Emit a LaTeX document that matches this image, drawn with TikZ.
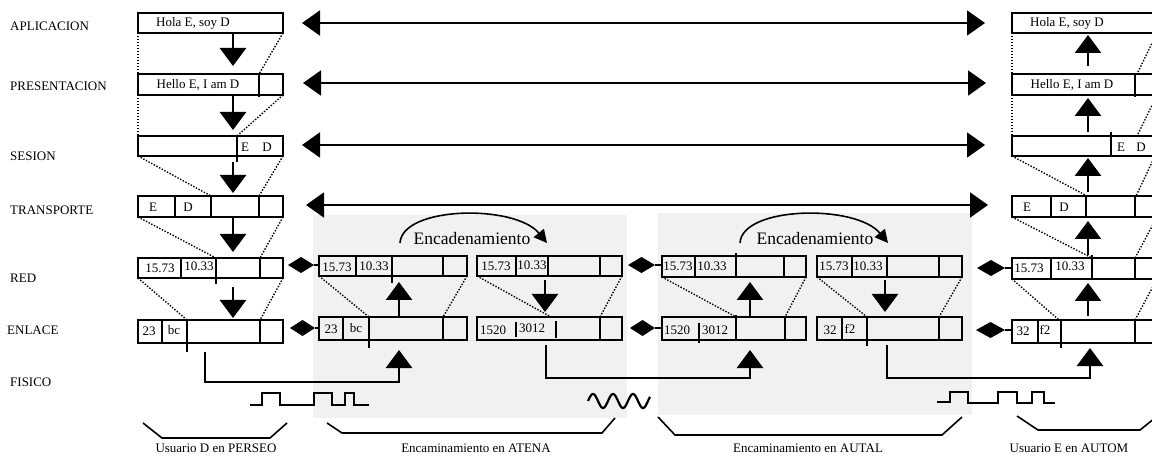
\documentclass[tikz,border=0pt]{standalone}
\usepackage{fontspec}
\setmainfont{Liberation Serif}
\usetikzlibrary{arrows.meta}
\definecolor{bgray}{RGB}{241,241,241}
\newcommand\mkbox[5]{\node[pbox,anchor=north west,minimum width={(#4-#2)*1pt},minimum height={(#5-#3)*1pt}] (#1) at (#2,#3) {};}
\newcommand\dvd[3]{\draw[dv] (#1,#2) -- (#1,#3);}
\newcommand\dmd[4]{\fill (#1,#4) -- ({(#1+#2)/2},{#4-8}) -- (#2,#4) -- ({(#1+#2)/2},{#4+8}) -- cycle; \draw[line width=1.5pt] (#2,#4) -- (#3,#4);}
\begin{document}
\begin{tikzpicture}[x=1pt,y=-1pt,
 pbox/.style={draw, line width=1.9pt, inner sep=0pt, outer sep=0pt},
 dv/.style={line width=1.9pt},
 dots/.style={line width=1.4pt, dash pattern=on 1.4pt off 1.6pt},
 txt/.style={font=\fontsize{13}{15}\selectfont, inner sep=0pt},
 lbl/.style={txt, anchor=west},
 big/.style={font=\fontsize{17.5}{20}\selectfont, inner sep=0pt},
 vbig/.style={line width=2.6pt, -{Triangle[length=18pt,width=26pt]}},
 hbig/.style={line width=2pt, {Triangle[length=18pt,width=25pt]}-{Triangle[length=18pt,width=25pt]}},
 phys/.style={line width=2pt},
 chain/.style={line width=1.6pt, -{Triangle[length=13pt,width=13pt]}},
 ]
\useasboundingbox (0,0) rectangle (1152,457);
% gray backgrounds
\fill[bgray] (313,215) rectangle (627,418);
\fill[bgray] (658,213) rectangle (972,415);

% layer labels
\node[lbl] (lA) at (10,26) {APLICACION};
\node[lbl] (lP) at (10,86) {PRESENTACION};
\node[lbl] (lS) at (10,156) {SESION};
\node[lbl] (lT) at (10,210) {TRANSPORTE};
\node[lbl] (lR) at (10,278) {RED};
\node[lbl] (lE) at (7,330) {ENLACE};
\node[lbl] (lF) at (10,382) {FISICO};

% ===== left stack (PERSEO)
\mkbox{aA}{138}{13}{283}{33}
\mkbox{aP}{138}{74}{283}{95}
\mkbox{aS}{138}{136}{283}{156}
\mkbox{aT}{138}{196}{283}{217}
\mkbox{aR}{138}{258}{283}{278}
\mkbox{aE}{138}{320}{283}{343}
\dvd{259}{74}{97}
\dvd{237}{136}{162}
\dvd{175}{196}{217}\dvd{211}{196}{217}\dvd{259}{196}{217}
\dvd{181}{258}{278}\dvd{216}{258}{284}\dvd{260}{258}{278}
\dvd{162}{320}{343}\dvd{187}{320}{352}\dvd{260}{320}{343}
\node[txt] (a1) at (193,23) {Hola E, soy D};
\node[txt] (a2) at (198,85) {Hello E, I am D};
\node[txt] (a3) at (245,147) {E};
\node[txt] (a4) at (267,147) {D};
\node[txt] (a5) at (153,207) {E};
\node[txt] (a6) at (188,207) {D};
\node[txt] (a7) at (160,268) {15.73};
\node[txt] (a8) at (199,266) {10.33};
\node[txt] (a9) at (149,331) {23};
\node[txt] (a10) at (174,330) {bc};
\draw[dots] (138,33) -- (138,74); \draw[dots] (283,33) -- (259,74);
\draw[dots] (138,95) -- (138,136); \draw[dots] (283,95) -- (237,136);
\draw[dots] (138,156) -- (211,196); \draw[dots] (283,156) -- (259,196);
\draw[dots] (138,217) -- (216,258); \draw[dots] (283,217) -- (260,258);
\draw[dots] (138,278) -- (187,320); \draw[dots] (283,278) -- (260,320);
\draw[vbig] (233,33) -- (233,66);
\draw[vbig] (233,95) -- (233,130);
\draw[vbig] (233,162) -- (233,193);
\draw[vbig] (233,217) -- (233,252);
\draw[vbig] (233,287) -- (233,318);

% ===== ATENA
\mkbox{bR}{319}{256}{467}{276}
\mkbox{bE}{319}{317}{467}{340}
\mkbox{cR}{477}{256}{622}{276}
\mkbox{cE}{477}{317}{622}{340}
\dvd{356}{256}{276}\dvd{392}{256}{283}\dvd{443}{256}{276}
\dvd{343}{317}{340}\dvd{369}{317}{348}\dvd{443}{317}{340}
\dvd{516}{256}{276}\dvd{548}{256}{276}\dvd{600}{256}{276}
\dvd{516}{322}{337}\dvd{556}{321}{338}\dvd{600}{317}{340}
\node[txt] (b1) at (337,267) {15.73};
\node[txt] (b2) at (374,266) {10.33};
\node[txt] (b3) at (331,329) {23};
\node[txt] (b4) at (356,328) {bc};
\node[txt] (c1) at (496,266) {15.73};
\node[txt] (c2) at (532,265) {10.33};
\node[txt] (c3) at (493,330) {1520};
\node[txt] (c4) at (532,328) {3012};
\draw[dots] (319,276) -- (369,317); \draw[dots] (467,276) -- (443,317);
\draw[dots] (477,276) -- (551,317); \draw[dots] (622,276) -- (600,317);
\draw[vbig] (399,317) -- (399,282);
\draw[vbig] (545,280) -- (545,312);
\draw[chain] (400,243) .. controls (402,206) and (515,204) .. (547,243);
\node[big] (ch1) at (472,239) {Encadenamiento};

% ===== AUTAL
\mkbox{dR}{662}{256}{806}{277}
\mkbox{dE}{662}{317}{806}{340}
\mkbox{eR}{817}{256}{962}{277}
\mkbox{eE}{817}{317}{962}{340}
\dvd{695}{256}{277}\dvd{736}{253}{277}\dvd{784}{256}{277}
\dvd{699}{323}{343}\dvd{736}{315}{340}\dvd{785}{317}{340}
\dvd{852}{256}{277}\dvd{887}{256}{277}\dvd{939}{256}{277}
\dvd{842}{317}{340}\dvd{867}{317}{346}\dvd{939}{317}{340}
\node[txt] (d1) at (678,266) {15.73};
\node[txt] (d2) at (712,266) {10.33};
\node[txt] (d3) at (677,330) {1520};
\node[txt] (d4) at (715,330) {3012};
\node[txt] (e1) at (834,266) {15.73};
\node[txt] (e2) at (868,266) {10.33};
\node[txt] (e3) at (830,330) {32};
\node[txt] (e4) at (850,329) {f2};
\draw[dots] (662,277) -- (736,317); \draw[dots] (806,277) -- (785,317);
\draw[dots] (817,277) -- (867,317); \draw[dots] (962,277) -- (939,317);
\draw[vbig] (750,317) -- (750,282);
\draw[vbig] (885,280) -- (885,312);
\draw[chain] (740,243) .. controls (742,206) and (856,204) .. (888,243);
\node[big] (ch2) at (815,239) {Encadenamiento};

% ===== AUTOM
\mkbox{fA}{1012}{13}{1160}{33}
\mkbox{fP}{1012}{74}{1160}{95}
\mkbox{fS}{1012}{136}{1160}{156}
\mkbox{fT}{1012}{196}{1160}{217}
\mkbox{fR}{1012}{258}{1160}{279}
\mkbox{fE}{1012}{320}{1160}{343}
\dvd{1135}{74}{97}
\dvd{1111}{132}{156}
\dvd{1051}{196}{217}\dvd{1086}{196}{217}\dvd{1135}{196}{217}
\dvd{1051}{258}{279}\dvd{1092}{255}{279}\dvd{1135}{258}{279}
\dvd{1038}{320}{343}\dvd{1061}{320}{348}\dvd{1135}{320}{343}
\node[txt] (f1) at (1067,23) {Hola E, soy D};
\node[txt] (f2) at (1072,85) {Hello E, I am D};
\node[txt] (f3) at (1121,147) {E};
\node[txt] (f4) at (1141,147) {D};
\node[txt] (f5) at (1027,207) {E};
\node[txt] (f6) at (1064,207) {D};
\node[txt] (f7) at (1029,268) {15.73};
\node[txt] (f8) at (1070,266) {10.33};
\node[txt] (f9) at (1023,331) {32};
\node[txt] (f10) at (1045,330) {f2};
\draw[dots] (1012,33) -- (1012,74); \draw[dots] (1157,33) -- (1137,74);
\draw[dots] (1012,95) -- (1012,136); \draw[dots] (1157,95) -- (1137,136);
\draw[dots] (1012,156) -- (1087,196); \draw[dots] (1155,156) -- (1136,196);
\draw[dots] (1012,217) -- (1092,258); \draw[dots] (1157,217) -- (1135,258);
\draw[dots] (1012,279) -- (1059,320); \draw[dots] (1157,279) -- (1135,320);
\draw[vbig] (1088,66) -- (1088,35);
\draw[vbig] (1088,132) -- (1088,98);
\draw[vbig] (1088,192) -- (1088,158);
\draw[vbig] (1088,255) -- (1088,221);
\draw[vbig] (1088,316) -- (1088,283);

% ===== peer arrows
\draw[hbig] (302,23) -- (985,23);
\draw[hbig] (303,83) -- (986,83);
\draw[hbig] (302,145) -- (985,145);
\draw[hbig] (306,205) -- (988,205);

\dmd{288}{314}{319}{265}
\dmd{290}{315}{319}{328}
\dmd{628}{655}{662}{265}
\dmd{630}{655}{662}{328}
\dmd{977}{1005}{1012}{268}
\dmd{976}{1005}{1012}{330}

% ===== physical links
\draw[phys] (205,352) -- (205,382) -- (399,382);
\draw[vbig] (399,383) -- (399,350);
\draw[phys] (546,345) -- (546,378) -- (750,378);
\draw[vbig] (750,379) -- (750,350);
\draw[phys] (887,345) -- (887,378) -- (1090,378);
\draw[vbig] (1090,379) -- (1090,348);

% signals
\draw[phys,line width=1.8pt] (250,405) -- (262,405) -- (262,393) -- (280,393) -- (280,405) -- (314,405) -- (314,393) -- (332,393) -- (332,405) -- (345,405) -- (345,393) -- (354,393) -- (354,405) -- (369,405);
\draw[phys,line width=2.2pt] plot[domain=0:62, samples=90, smooth] ({588+\x},{401-7*sin(18*\x)});
\draw[phys,line width=1.8pt] (937,402) -- (950,402) -- (950,392) -- (968,392) -- (968,403) -- (998,403) -- (998,392) -- (1017,392) -- (1017,403) -- (1032,403) -- (1032,392) -- (1044,392) -- (1044,403) -- (1055,403);

% braces
\draw[line width=1.6pt] (143,423) -- (162,438) -- (270,438) -- (287,423);
\draw[line width=1.6pt] (327,423) -- (342,433) -- (602,433) -- (615,418);
\draw[line width=1.6pt] (658,417) -- (675,435) -- (942,435) -- (962,417);
\draw[line width=1.6pt] (1017,416) -- (1038,430) -- (1140,430) -- (1160,414);
\node[txt] (u1) at (216,448) {Usuario D en PERSEO};
\node[txt] (u2) at (476,448) {Encaminamiento en ATENA};
\node[txt] (u3) at (808,448) {Encaminamiento en AUTAL};
\node[txt] (u4) at (1069,448) {Usuario E en AUTOM};
\end{tikzpicture}
\end{document}
